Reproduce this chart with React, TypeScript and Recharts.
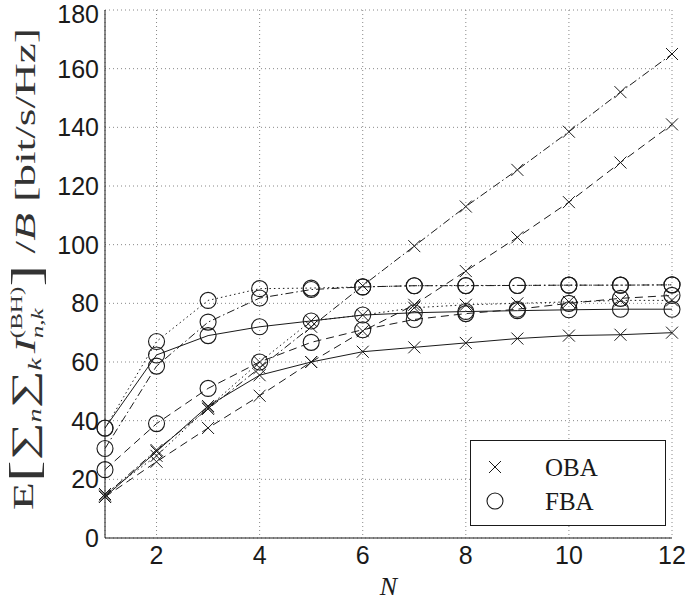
import { LineChart, Line, XAxis, YAxis, CartesianGrid } from 'recharts'

const N = [1, 2, 3, 4, 5, 6, 7, 8, 9, 10, 11, 12]

// OBA (cross markers)
const obaSolid = [14, 29.5, 45, 55.5, 60, 63.5, 65, 66.5, 68, 69, 69.3, 70]
const obaDashed = [14, 26, 37.5, 48.5, 60, 70.5, 79.5, 91, 102.5, 114.5, 128, 141]
const obaDashDot = [14.5, 30, 44, 58, 72, 86, 99.5, 113, 125.5, 138.5, 152, 165]
const obaDotted = [15, 28, 44.5, 60, 74, 76, 78.5, 79.5, 80, 80.5, 81, 81]

// FBA (circle markers)
const fbaSolid = [37.5, 62.4, 69, 72, 74, 76, 76.8, 77.2, 77.5, 77.8, 78, 78]
const fbaDashed = [23.3, 39, 51, 60, 66.7, 71, 74.5, 76.5, 78, 80, 81.7, 82.7]
const fbaDashDot = [30.5, 58.6, 73.6, 81.8, 84.7, 85.6, 86, 86, 86.1, 86.2, 86.2, 86.3]
const fbaDotted = [37.4, 67, 81, 85, 85.2, 85.6, 86, 86.1, 86.1, 86.2, 86.2, 86.3]

const xTicks = [2, 4, 6, 8, 10, 12]
const yTicks = [0, 20, 40, 60, 80, 100, 120, 140, 160, 180]

const data = N.map((n, i) => ({
  n,
  obaSolid: obaSolid[i],
  obaDashed: obaDashed[i],
  obaDashDot: obaDashDot[i],
  obaDotted: obaDotted[i],
  fbaSolid: fbaSolid[i],
  fbaDashed: fbaDashed[i],
  fbaDashDot: fbaDashDot[i],
  fbaDotted: fbaDotted[i],
}))

const INK = '#1a1a1a'
const SERIF = '"Liberation Serif", "DejaVu Serif", serif'
const SANS = '"Liberation Sans", Arial, sans-serif'

const dashes: Record<string, string | undefined> = {
  Solid: undefined,
  Dashed: '8 5',
  DashDot: '8 3 1.5 3',
  Dotted: '1.5 3',
}

const Cross = (props: any) => {
  const { cx, cy, index } = props
  if (cx == null || cy == null) return <g key={`c${index}`} />
  const s = 6
  return (
    <path
      key={`c${index}`}
      d={`M${cx - s},${cy - s}L${cx + s},${cy + s}M${cx - s},${cy + s}L${cx + s},${cy - s}`}
      stroke={INK}
      strokeWidth={1}
      fill="none"
    />
  )
}

const Ring = (props: any) => {
  const { cx, cy, index } = props
  if (cx == null || cy == null) return <g key={`r${index}`} />
  return <circle key={`r${index}`} cx={cx} cy={cy} r={8} stroke={INK} strokeWidth={1.1} fill="none" />
}

// stretched a little to the same length as the label in the original figure
const YLabel = () => (
  <text
    transform="translate(33, 269) rotate(-90)"
    textAnchor="middle"
    fontFamily={SERIF}
    fontSize={29}
    fill="#333"
    textLength={482}
    lengthAdjust="spacingAndGlyphs"
  >
    <tspan>E</tspan>
    <tspan fontSize={42} dy={5}>[</tspan>
    <tspan fontSize={34} dy={-3}>∑</tspan>
    <tspan fontSize={18} dy={6} fontStyle="italic">n</tspan>
    <tspan fontSize={34} dy={-6}>∑</tspan>
    <tspan fontSize={18} dy={6} fontStyle="italic">k</tspan>
    <tspan fontStyle="italic" dy={-6} dx={3}>I</tspan>
    <tspan fontSize={16} dy={-13}>(BH)</tspan>
    <tspan fontSize={16} fontStyle="italic" dx={-33} dy={21}>n,k</tspan>
    <tspan fontSize={42} dx={14} dy={-3}>]</tspan>
    <tspan dy={-5}> /</tspan>
    <tspan fontStyle="italic">B</tspan>
    <tspan> [bit/s/Hz]</tspan>
  </text>
)

const series = [
  { key: 'fbaSolid', style: 'Solid', dot: Ring },
  { key: 'fbaDashed', style: 'Dashed', dot: Ring },
  { key: 'fbaDashDot', style: 'DashDot', dot: Ring },
  { key: 'fbaDotted', style: 'Dotted', dot: Ring },
  { key: 'obaSolid', style: 'Solid', dot: Cross },
  { key: 'obaDashed', style: 'Dashed', dot: Cross },
  { key: 'obaDashDot', style: 'DashDot', dot: Cross },
  { key: 'obaDotted', style: 'Dotted', dot: Cross },
]

export default function App() {
  return (
    <div style={{ position: 'absolute', left: 0, top: 0, width: 685, height: 602, background: '#fff' }}>
      <LineChart width={685} height={602} data={data} margin={{ top: 10, right: 13, bottom: 0, left: 0 }}>
        <CartesianGrid xAxisId="x" yAxisId="y" stroke="#888" strokeDasharray="1 3" />
        <XAxis
          xAxisId="x"
          dataKey="n"
          type="number"
          domain={[1, 12]}
          ticks={xTicks}
          height={64}
          tickSize={0}
          tickMargin={8}
          stroke={INK}
          tick={{ fontFamily: SANS, fontSize: 25, fill: INK }}
          label={{ value: 'N', position: 'insideBottom', offset: 7, fontFamily: SERIF, fontSize: 26, fontStyle: 'italic', fill: INK }}
        />
        <XAxis xAxisId="xb" type="number" domain={[1, 12]} ticks={xTicks} mirror tick={false} axisLine={false} tickSize={6} stroke={INK} height={0} />
        <XAxis xAxisId="xt" orientation="top" type="number" domain={[1, 12]} ticks={xTicks} mirror tick={false} tickSize={6} stroke={INK} height={0} />
        <YAxis
          yAxisId="y"
          type="number"
          domain={[0, 180]}
          ticks={yTicks}
          width={105}
          tickSize={0}
          tickMargin={6}
          stroke={INK}
          tick={{ fontFamily: SANS, fontSize: 25, fill: INK }}
          label={<YLabel />}
        />
        <YAxis yAxisId="yl" type="number" domain={[0, 180]} ticks={yTicks} mirror tick={false} axisLine={false} tickSize={6} stroke={INK} width={0} />
        <YAxis yAxisId="yr" orientation="right" type="number" domain={[0, 180]} ticks={yTicks} mirror tick={false} tickSize={6} stroke={INK} width={0} />
        {series.map((s) => (
          <Line
            key={s.key}
            xAxisId="x"
            yAxisId="y"
            type="linear"
            dataKey={s.key}
            stroke={INK}
            strokeWidth={1}
            strokeDasharray={dashes[s.style]}
            dot={s.dot}
            activeDot={false}
            isAnimationActive={false}
          />
        ))}
      </LineChart>
      <svg width={196} height={86} style={{ position: 'absolute', left: 470, top: 440 }}>
        <rect x={0.5} y={0.5} width={195} height={85} fill="#fff" stroke={INK} strokeWidth={1} />
        <path d="M19,21L31,33M19,33L31,21" stroke={INK} strokeWidth={1} />
        <text x={75} y={36} fontFamily={SERIF} fontSize={25} fill={INK}>OBA</text>
        <circle cx={25} cy={61} r={8} stroke={INK} strokeWidth={1.1} fill="none" />
        <text x={75} y={70} fontFamily={SERIF} fontSize={25} fill={INK}>FBA</text>
      </svg>
    </div>
  )
}
